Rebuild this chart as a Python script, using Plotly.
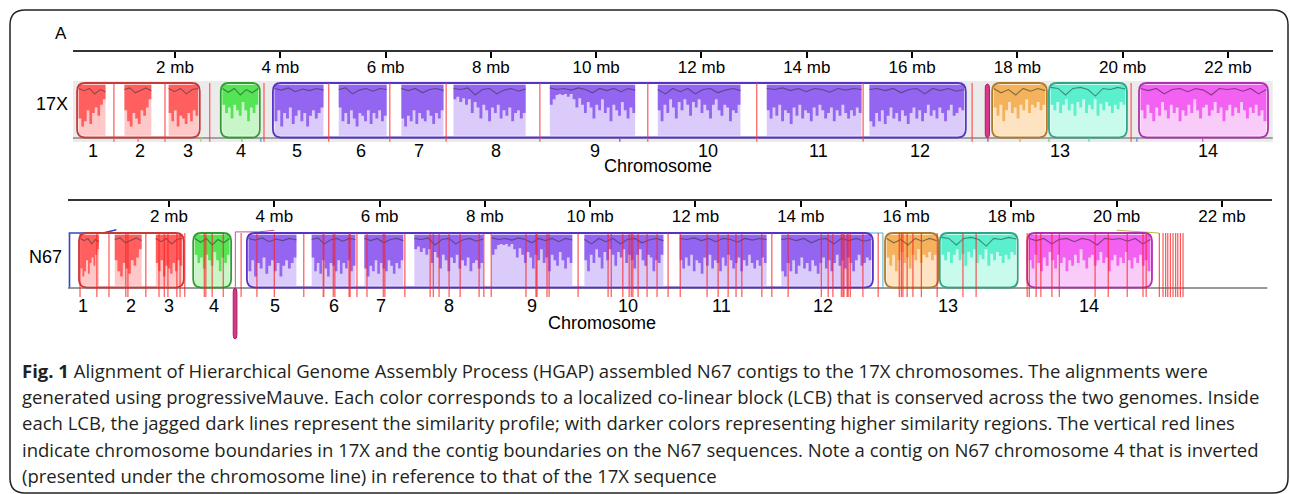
import plotly.graph_objects as go

W, H = 1290, 494

# ---------------- data ----------------
TICK_MB = [2, 4, 6, 8, 10, 12, 14, 16, 18, 20, 22]
TICK_TEXT = ["2 mb", "4 mb", "6 mb", "8 mb", "10 mb", "12 mb", "14 mb",
             "16 mb", "18 mb", "20 mb", "22 mb"]
CHR_LABELS = ["1", "2", "3", "4", "5", "6", "7", "8", "9", "10", "11", "12", "13", "14"]

X17_LENGTH = 22.85   # mb
N67_LENGTH = 22.86   # mb

X17_CHR_POS = [0.44, 1.34, 2.25, 3.25, 4.32, 5.53, 6.63, 8.10, 9.98, 12.12, 14.22, 16.15, 18.81, 21.62]
N67_CHR_POS = [0.37, 1.28, 2.00, 2.86, 4.01, 5.13, 6.03, 7.32, 8.90, 10.72, 12.50, 14.42, 16.80, 19.47]

# LCB blocks (start, end in mb)
BLOCK_LCB = ["red", "green", "purple", "orange", "teal", "magenta"]
X17_BLOCK_START = [0.14, 2.87, 3.86, 17.52, 18.60, 20.31]
X17_BLOCK_END = [2.47, 3.61, 17.02, 18.56, 20.08, 22.76]
N67_BLOCK_START = [0.29, 2.46, 3.48, 15.60, 16.64, 18.30]
N67_BLOCK_END = [2.28, 3.18, 15.37, 16.61, 18.12, 20.67]

# aligned segments inside the blocks (one per chromosome)
SEG_LCB = ["red", "red", "red", "green", "purple", "purple", "purple", "purple",
           "purple", "purple", "purple", "purple", "orange", "teal", "magenta"]
X17_SEG_START = [0.14, 1.01, 1.85, 2.87, 3.86, 5.08, 6.27, 7.26, 9.09, 11.14, 13.21, 15.16, 17.52, 18.60, 20.31]
X17_SEG_END = [0.71, 1.58, 2.47, 3.61, 4.85, 6.05, 7.13, 8.69, 10.77, 12.77, 15.07, 17.02, 18.56, 20.08, 22.76]
N67_SEG_START = [0.29, 0.94, 1.72, 2.46, 3.48, 4.68, 5.68, 6.63, 8.10, 9.86, 11.67, 13.60, 15.60, 16.64, 18.30]
N67_SEG_END = [0.70, 1.51, 2.28, 3.18, 4.45, 5.57, 6.48, 8.00, 9.69, 11.42, 13.38, 15.37, 16.61, 18.12, 20.67]

# inverted contig (chromosome 4 of N67)
X17_INV = [17.39, 17.47]
N67_INV = [3.22, 3.29]

# lower edge of the darker (high similarity) shading, fraction of block height
DEPTH_RED1 = [0.35, 0.2, 0.3, 0.5, 0.25, 0.45, 0.55, 0.4, 0.6, 0.7]
DEPTH_RED2 = [0.5, 0.3, 0.2, 0.45, 0.35, 0.25, 0.5, 0.4, 0.55, 0.7]
DEPTH_RED3 = [0.45, 0.3, 0.5, 0.2, 0.4, 0.35, 0.25, 0.45, 0.3, 0.5, 0.4]
DEPTH_GREEN = [0.6, 0.45, 0.55, 0.35, 0.6, 0.5, 0.4, 0.65, 0.5, 0.3, 0.55, 0.45, 0.6]
DEPTH_PUR1 = [0.3, 0.5, 0.2, 0.45, 0.35, 0.55, 0.25, 0.4, 0.5, 0.3, 0.45, 0.2, 0.4, 0.5, 0.35, 0.45, 0.55]
DEPTH_PUR2 = [0.55, 0.3, 0.45, 0.25, 0.5, 0.35, 0.2, 0.45, 0.4, 0.3, 0.5, 0.25, 0.45, 0.35, 0.5, 0.3, 0.4]
DEPTH_PUR3 = [0.35, 0.2, 0.4, 0.3, 0.5, 0.25, 0.45, 0.35, 0.3, 0.5, 0.4, 0.25, 0.45, 0.35, 0.5]
DEPTH_PUR4 = [0.7, 0.75, 0.65, 0.72, 0.6, 0.7, 0.45, 0.65, 0.55, 0.35, 0.6, 0.5, 0.3, 0.55, 0.45, 0.6,
              0.35, 0.5, 0.4, 0.55, 0.3, 0.45, 0.5, 0.35, 0.45]
DEPTH_PUR5 = [0.6, 0.7, 0.78, 0.8, 0.78, 0.8, 0.75, 0.8, 0.7, 0.55, 0.72, 0.6, 0.45, 0.65, 0.55, 0.35,
              0.6, 0.5, 0.7, 0.45, 0.55, 0.3, 0.6, 0.5, 0.4, 0.65, 0.5, 0.35, 0.55, 0.45]
DEPTH_PUR6 = [0.5, 0.3, 0.6, 0.45, 0.7, 0.55, 0.35, 0.65, 0.5, 0.7, 0.6, 0.4, 0.65, 0.55, 0.7, 0.45,
              0.6, 0.5, 0.35, 0.6, 0.7, 0.5, 0.4, 0.6, 0.55, 0.3, 0.5, 0.45, 0.6]
DEPTH_PUR7 = [0.5, 0.35, 0.55, 0.4, 0.6, 0.3, 0.5, 0.45, 0.25, 0.55, 0.4, 0.6, 0.35, 0.5, 0.45, 0.3,
              0.55, 0.4, 0.6, 0.5, 0.35, 0.45, 0.55, 0.3, 0.5, 0.4, 0.6, 0.45, 0.35, 0.5, 0.4, 0.55, 0.45]
DEPTH_PUR8 = [0.3, 0.2, 0.45, 0.3, 0.5, 0.25, 0.4, 0.55, 0.35, 0.45, 0.3, 0.5, 0.4, 0.25, 0.45, 0.55,
              0.35, 0.5, 0.3, 0.45, 0.6, 0.4, 0.5, 0.35, 0.55, 0.45, 0.3, 0.5, 0.6, 0.4, 0.45, 0.55, 0.5]
DEPTH_ORANGE = [0.55, 0.4, 0.6, 0.3, 0.5, 0.65, 0.45, 0.55, 0.35, 0.6, 0.5, 0.7, 0.45, 0.6, 0.55, 0.65, 0.5, 0.6]
DEPTH_TEAL = [0.6, 0.5, 0.65, 0.45, 0.6, 0.7, 0.5, 0.62, 0.4, 0.65, 0.55, 0.7, 0.45, 0.6, 0.52,
              0.7, 0.4, 0.62, 0.5, 0.65, 0.58, 0.45, 0.6, 0.52, 0.65, 0.6]
DEPTH_MAG = [0.5, 0.35, 0.6, 0.45, 0.3, 0.55, 0.4, 0.65, 0.5, 0.35, 0.6, 0.45, 0.55, 0.3, 0.5, 0.4,
             0.6, 0.45, 0.7, 0.5, 0.35, 0.55, 0.6, 0.4, 0.5, 0.65, 0.45, 0.55, 0.3, 0.5, 0.6, 0.4,
             0.55, 0.45, 0.65, 0.5, 0.35, 0.55, 0.45, 0.6, 0.4, 0.5, 0.3]

# similarity profile (jagged dark line), fraction of block height
PRO_RED1 = [0.9, 0.86, 0.9, 0.8, 0.88, 0.84]
PRO_RED2 = [0.88, 0.91, 0.82, 0.87, 0.91, 0.86]
PRO_RED3 = [0.9, 0.84, 0.9, 0.8, 0.88, 0.9]
PRO_GREEN = [0.9, 0.83, 0.9, 0.78, 0.88, 0.82, 0.9]
PRO_PUR1 = [0.9, 0.87, 0.91, 0.84, 0.89, 0.86, 0.9, 0.87]
PRO_PUR2 = [0.88, 0.91, 0.8, 0.87, 0.9, 0.85, 0.9, 0.88]
PRO_PUR3 = [0.9, 0.86, 0.9, 0.82, 0.88, 0.9, 0.86]
PRO_PUR4 = [0.9, 0.88, 0.91, 0.78, 0.88, 0.9, 0.8, 0.87, 0.9, 0.85, 0.89]
PRO_PUR5 = [0.91, 0.88, 0.9, 0.87, 0.91, 0.88, 0.82, 0.9, 0.86, 0.9, 0.84, 0.9, 0.87]
PRO_PUR6 = [0.88, 0.8, 0.9, 0.84, 0.9, 0.8, 0.88, 0.9, 0.82, 0.87, 0.9, 0.86]
PRO_PUR7 = [0.9, 0.88, 0.91, 0.86, 0.9, 0.84, 0.9, 0.88, 0.83, 0.9, 0.87, 0.9, 0.88]
PRO_PUR8 = [0.88, 0.9, 0.86, 0.9, 0.82, 0.88, 0.9, 0.8, 0.9, 0.86, 0.9, 0.85, 0.88]
PRO_ORANGE = [0.9, 0.82, 0.88, 0.78, 0.9, 0.85, 0.9, 0.86]
PRO_TEAL = [0.92, 0.9, 0.78, 0.9, 0.92, 0.88, 0.76, 0.9, 0.88, 0.92, 0.89]
PRO_MAG = [0.9, 0.86, 0.9, 0.8, 0.88, 0.9, 0.84, 0.9, 0.87, 0.78, 0.9, 0.88, 0.9, 0.85, 0.9, 0.8, 0.88]

SEG_DEPTHS = [DEPTH_RED1, DEPTH_RED2, DEPTH_RED3, DEPTH_GREEN, DEPTH_PUR1, DEPTH_PUR2, DEPTH_PUR3,
              DEPTH_PUR4, DEPTH_PUR5, DEPTH_PUR6, DEPTH_PUR7, DEPTH_PUR8, DEPTH_ORANGE, DEPTH_TEAL, DEPTH_MAG]
SEG_PROFILES = [PRO_RED1, PRO_RED2, PRO_RED3, PRO_GREEN, PRO_PUR1, PRO_PUR2, PRO_PUR3,
                PRO_PUR4, PRO_PUR5, PRO_PUR6, PRO_PUR7, PRO_PUR8, PRO_ORANGE, PRO_TEAL, PRO_MAG]

# chromosome boundaries (17X) and contig boundaries (N67), mb
X17_BOUNDARIES = [0.84, 1.81, 2.66, 3.69, 4.92, 6.08, 7.15, 8.93, 10.98, 13.05, 15.07, 17.14, 20.16]
N67_BOUNDARIES = [0.31, 0.63, 0.86, 1.18, 1.22, 1.56, 1.81, 1.91, 1.98, 2.15, 2.21, 2.30, 2.67, 2.70,
                  2.82, 3.03, 3.37, 3.67, 4.00, 4.56, 4.93, 4.94, 5.12, 5.15, 5.42, 5.44, 5.57, 5.76,
                  6.07, 6.10, 6.48, 6.96, 7.02, 7.13, 7.32, 7.53, 7.89, 7.98, 8.12, 8.78, 8.97, 8.99,
                  9.18, 9.22, 9.77, 10.34, 10.40, 10.62, 10.74, 10.78, 10.81, 10.91, 11.08, 11.27,
                  11.48, 11.71, 12.22, 12.43, 12.62, 12.77, 12.88, 13.26, 13.45, 13.76, 14.39, 14.52,
                  14.61, 14.77, 14.80, 14.82, 14.88, 14.90, 14.94, 15.18, 15.47, 15.87, 15.91, 15.94,
                  16.02, 16.13, 16.29, 16.59, 17.08, 17.33, 18.30, 18.34, 18.47, 18.56, 18.77, 18.91,
                  19.59, 19.84, 20.20, 20.50, 20.56, 20.81, 20.88, 20.93, 20.97, 21.02, 21.07, 21.12,
                  21.16, 21.21, 21.26]

# small LCB boundary marks under the 17X line
X17_MARK_POS = [1.30, 2.49, 3.27, 3.63, 10.45, 17.44, 18.05, 18.60, 19.36, 20.27, 21.52]
X17_MARK_COL = ["#ff6060", "#b8d040", "#60d060", "#4090e0", "#7050d0", "#d03080",
                "#e0a040", "#60d060", "#50d0b0", "#6080e0", "#d040d0"]

CAPTION = [
    "<b>Fig. 1</b> Alignment of Hierarchical Genome Assembly Process (HGAP) assembled N67 contigs to the 17X chromosomes. The alignments were",
    "generated using progressiveMauve. Each color corresponds to a localized co-linear block (LCB) that is conserved across the two genomes. Inside",
    "each LCB, the jagged dark lines represent the similarity profile; with darker colors representing higher similarity regions. The vertical red lines",
    "indicate chromosome boundaries in 17X and the contig boundaries on the N67 sequences. Note a contig on N67 chromosome 4 that is inverted",
    "(presented under the chromosome line) in reference to that of the 17X sequence",
]

# ---------------- styles ----------------
COL = {
    "red":     dict(sat="#ff5f5f", pale="#ffc8c8", edge="#c83a3a", prof="#8f4848"),
    "green":   dict(sat="#55e455", pale="#c8f6c8", edge="#2f9e2f", prof="#3f7f3f"),
    "purple":  dict(sat="#9465f0", pale="#dacbfa", edge="#5631c6", prof="#5a4a86"),
    "orange":  dict(sat="#f4b25c", pale="#fde3c2", edge="#b07a2a", prof="#84693f"),
    "teal":    dict(sat="#5af0cd", pale="#c9fbed", edge="#2fa585", prof="#3f8a76"),
    "magenta": dict(sat="#f261f2", pale="#f9cbf9", edge="#b02eb0", prof="#873a87"),
}
FONT = "Liberation Sans, Arial, sans-serif"
RX, RY = 0.15, 0.15

fig = go.Figure()
shapes = []
annotations = []


def rounded_path(x0, x1, y0, y1, rx, ry):
    return (f"M {x0+rx},{y0} L {x1-rx},{y0} Q {x1},{y0} {x1},{y0+ry} "
            f"L {x1},{y1-ry} Q {x1},{y1} {x1-rx},{y1} L {x0+rx},{y1} "
            f"Q {x0},{y1} {x0},{y1-ry} L {x0},{y0+ry} Q {x0},{y0} {x0+rx},{y0} Z")


def draw_genome(xa, ya, seg_start, seg_end, blk_start, blk_end, inv, inv_below):
    for s, e in zip(blk_start, blk_end):
        shapes.append(dict(type="path", xref=xa, yref=ya, layer="below",
                           path=rounded_path(s, e, 0, 1, RX, RY),
                           fillcolor="white", line=dict(width=0)))
    for lcb, s, e, dep, pro in zip(SEG_LCB, seg_start, seg_end, SEG_DEPTHS, SEG_PROFILES):
        c = COL[lcb]
        inset = 0.03
        s2, e2 = s + inset, e - inset
        fig.add_trace(go.Scatter(x=[s2, e2, e2, s2, s2], y=[0.03, 0.03, 0.97, 0.97, 0.03],
                                 xaxis=xa, yaxis=ya, mode="lines", fill="toself",
                                 fillcolor=c["pale"], line=dict(width=0), hoverinfo="skip"))
        n = len(dep)
        w = (e2 - s2) / n
        xs, ys = [s2], [0.97]
        for i, d in enumerate(dep):
            xs += [s2 + i * w, s2 + (i + 1) * w]
            ys += [d, d]
        xs += [e2, s2]
        ys += [0.97, 0.97]
        fig.add_trace(go.Scatter(x=xs, y=ys, xaxis=xa, yaxis=ya, mode="lines", fill="toself",
                                 fillcolor=c["sat"], line=dict(width=0), hoverinfo="skip"))
        m = len(pro)
        wp = (e2 - s2) / (m - 1)
        fig.add_trace(go.Scatter(x=[s2 + i * wp for i in range(m)], y=pro, xaxis=xa, yaxis=ya,
                                 mode="lines", line=dict(color=c["prof"], width=1.1),
                                 hoverinfo="skip"))
    for lcb, s, e in zip(BLOCK_LCB, blk_start, blk_end):
        shapes.append(dict(type="path", xref=xa, yref=ya, layer="above",
                           path=rounded_path(s, e, 0, 1, RX, RY),
                           line=dict(color=COL[lcb]["edge"], width=1.8)))
    if inv_below:
        y0, y1 = -0.945, -0.01
    else:
        y0, y1 = 0.0, 0.98
    hw = (inv[1] - inv[0]) / 2
    shapes.append(dict(type="path", xref=xa, yref=ya, layer="above",
                       path=rounded_path(inv[0], inv[1], y0, y1, hw, 0.08),
                       fillcolor="#d8378c", line=dict(color="#a3205f", width=1)))


# --- 17X panel ---
shapes.append(dict(type="rect", xref="x", yref="y", layer="below",
                   x0=0, x1=X17_LENGTH, y0=-0.083, y1=1.037,
                   fillcolor="#ebebeb", line=dict(width=0)))
shapes.append(dict(type="line", xref="x", yref="y", layer="below",
                   x0=0, x1=X17_LENGTH, y0=-0.01, y1=-0.01,
                   line=dict(color="#8a8a8a", width=1.5)))
draw_genome("x", "y", X17_SEG_START, X17_SEG_END, X17_BLOCK_START, X17_BLOCK_END, X17_INV, False)
p = " ".join(f"M {b},1.0 L {b},-0.08" for b in X17_BOUNDARIES)
shapes.append(dict(type="path", xref="x", yref="y", layer="above", path=p,
                   line=dict(color="rgba(255,60,60,0.85)", width=1.2)))
for pos, col in zip(X17_MARK_POS, X17_MARK_COL):
    shapes.append(dict(type="line", xref="x", yref="y", layer="above",
                       x0=pos, x1=pos, y0=-0.01, y1=-0.08, line=dict(color=col, width=1.2)))

# --- N67 panel ---
shapes.append(dict(type="line", xref="x2", yref="y2", layer="below",
                   x0=0.08, x1=N67_LENGTH, y0=-0.01, y1=-0.01,
                   line=dict(color="#777777", width=1.6)))
draw_genome("x2", "y2", N67_SEG_START, N67_SEG_END, N67_BLOCK_START, N67_BLOCK_END, N67_INV, True)
fig.add_trace(go.Scatter(x=[0.11, 0.11, 0.75, 1.0], y=[0.0, 1.0, 1.0, 1.06], xaxis="x2", yaxis="y2",
                         mode="lines", line=dict(color="#3048c0", width=1.6), hoverinfo="skip"))
fig.add_trace(go.Scatter(x=[3.26, 3.26, 3.7, 4.0], y=[0.0, 1.02, 1.02, 1.05], xaxis="x2", yaxis="y2",
                         mode="lines", line=dict(color="#d05090", width=1), hoverinfo="skip"))
fig.add_trace(go.Scatter(x=[14.94, 15.56, 15.56], y=[1.0, 1.0, 0.0], xaxis="x2", yaxis="y2",
                         mode="lines", line=dict(color="#50b0d0", width=1), hoverinfo="skip"))
fig.add_trace(go.Scatter(x=[20.0, 20.8], y=[1.05, 1.0], xaxis="x2", yaxis="y2",
                         mode="lines", line=dict(color="#b8c040", width=1.2), hoverinfo="skip"))
p = " ".join(f"M {b},1.0 L {b},-0.174" for b in N67_BOUNDARIES)
shapes.append(dict(type="path", xref="x2", yref="y2", layer="above", path=p,
                   line=dict(color="rgba(255,30,30,0.75)", width=1.2)))

# --- labels ---
for lab, pos in zip(CHR_LABELS, X17_CHR_POS):
    annotations.append(dict(x=pos, y=-0.24, xref="x", yref="y", text=lab, showarrow=False,
                            font=dict(family=FONT, size=18, color="black")))
for lab, pos in zip(CHR_LABELS, N67_CHR_POS):
    annotations.append(dict(x=pos, y=-0.34, xref="x2", yref="y2", text=lab, showarrow=False,
                            font=dict(family=FONT, size=18, color="black")))
annotations.append(dict(x=11.17, y=-0.53, xref="x", yref="y", text="Chromosome", showarrow=False,
                        font=dict(family=FONT, size=18, color="black")))
annotations.append(dict(x=10.22, y=-0.66, xref="x2", yref="y2", text="Chromosome", showarrow=False,
                        font=dict(family=FONT, size=18, color="black")))
for txt, px, py, sz in [("17X", 52, 104, 18), ("N67", 45, 257, 18), ("A", 61, 34, 17)]:
    annotations.append(dict(x=px / W, y=1 - py / H, xref="paper", yref="paper", text=txt,
                            xanchor="center", yanchor="middle", showarrow=False,
                            font=dict(family=FONT, size=sz, color="black")))

CAP_Y = [370, 396, 422, 449, 475]
for line, yy in zip(CAPTION, CAP_Y):
    annotations.append(dict(x=20 / W, y=1 - yy / H, xref="paper", yref="paper", text=line,
                            xanchor="left", yanchor="middle", showarrow=False,
                            font=dict(family="Open Sans", size=18.5, color="#231f20")))

fx0, fx1, fy0, fy1 = 10 / W, 1288 / W, 1 - 493 / H, 1 - 10 / H
shapes.append(dict(type="path", xref="paper", yref="paper", layer="above",
                   path=rounded_path(fx0, fx1, fy0, fy1, 15 / W, 15 / H),
                   line=dict(color="#222222", width=1.5)))

axis_common = dict(showgrid=False, zeroline=False, showline=True, linecolor="#333333",
                   linewidth=1.5, ticks="outside", ticklen=6, tickwidth=2, tickcolor="black",
                   tickvals=TICK_MB, ticktext=TICK_TEXT, side="bottom", anchor="free",
                   ticklabelstandoff=-5,
                   tickfont=dict(family=FONT, size=17, color="black"), fixedrange=True)

fig.update_layout(
    width=W, height=H, margin=dict(l=0, r=0, t=0, b=0),
    paper_bgcolor="white", plot_bgcolor="rgba(0,0,0,0)", showlegend=False, hovermode=False,
    xaxis=dict(domain=[73 / W, 1273 / W], range=[0.0627, 22.855], position=1 - 51 / H, **axis_common),
    yaxis=dict(domain=[0, 1], range=[-6.541, 2.523], visible=False, anchor="x", fixedrange=True),
    xaxis2=dict(domain=[68 / W, 1272 / W], range=[0.0817, 22.950], position=1 - 200 / H, **axis_common),
    yaxis2=dict(domain=[0, 1], range=[-3.789, 5.275], visible=False, anchor="x2", fixedrange=True),
    shapes=shapes, annotations=annotations,
)

fig.write_html("out.html", config={"displayModeBar": False},
               post_script="document.body.style.margin='0px';document.body.style.overflow='hidden';")
